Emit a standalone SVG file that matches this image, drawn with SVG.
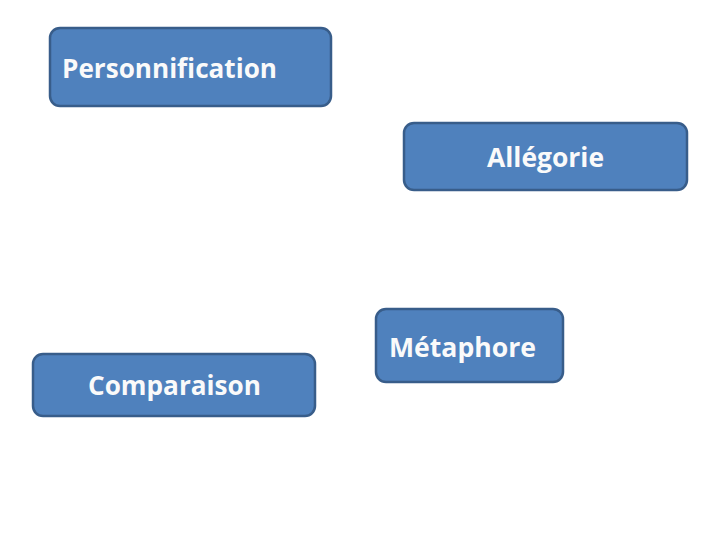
<svg xmlns="http://www.w3.org/2000/svg" width="720" height="540" viewBox="0 0 720 540">
<style>
.box{fill:#4f81bd;stroke:#385d8a;stroke-width:2.5}
.lbl{font-family:"Open Sans","Liberation Sans",sans-serif;font-weight:bold;font-size:26px;fill:#fafafa}
</style>
<rect width="720" height="540" fill="#ffffff"/>
<g id="personnification">
<rect class="box" x="50" y="28" width="281" height="78" rx="10"/>
<text class="lbl" x="62" y="78" textLength="215" lengthAdjust="spacingAndGlyphs">Personnification</text>
</g>
<g id="allegorie">
<rect class="box" x="404" y="123" width="283" height="67" rx="10"/>
<text class="lbl" x="487" y="167" textLength="117" lengthAdjust="spacingAndGlyphs">Allégorie</text>
</g>
<g id="metaphore">
<rect class="box" x="376" y="309" width="187" height="73" rx="10"/>
<text class="lbl" x="389" y="357" textLength="147" lengthAdjust="spacingAndGlyphs">Métaphore</text>
</g>
<g id="comparaison">
<rect class="box" x="33" y="354" width="282" height="62" rx="10"/>
<text class="lbl" x="88" y="395" textLength="173" lengthAdjust="spacingAndGlyphs">Comparaison</text>
</g>
<g id="connectors"></g>
</svg>
